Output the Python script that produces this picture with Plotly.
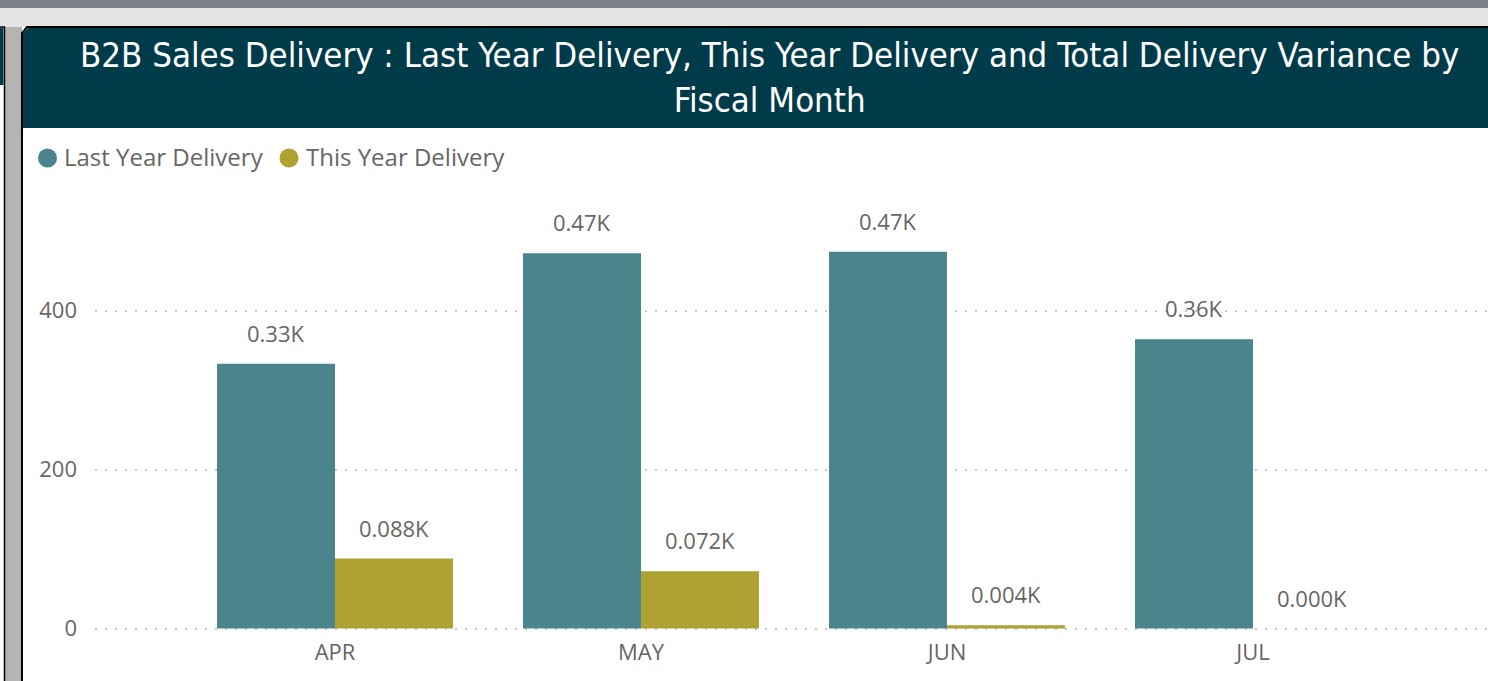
import plotly.graph_objects as go

W, H = 1488, 681

# ---- data ----
months = ["APR", "MAY", "JUN", "JUL"]
last_year = [333, 472, 474, 364]
this_year = [88, 72, 4, 0]
series_names = ["Last Year Delivery", "This Year Delivery"]
series_colors = ["#4a858e", "#b0a133"]
label_decimals = [2, 3]
y_tick_vals = [0, 200, 400]
title_text = ("B2B Sales Delivery : Last Year Delivery, This Year Delivery and "
              "Total Delivery Variance by<br>Fiscal Month")

TEXT_GREY = "#666666"
BODY_FONT = "Segoe UI, Open Sans, sans-serif"


def px(x):
    return x / W


def py(y):
    return 1 - y / H


BARGAP = 0.229
half_px = (1 - BARGAP) / 4 * 306  # pixel offset of each bar centre from category centre

fig = go.Figure()
for name, vals, col in zip(series_names, [last_year, this_year], series_colors):
    fig.add_bar(x=months, y=vals, name=name,
                marker=dict(color=col, line=dict(width=0)),
                showlegend=False)

# data labels
annotations = []
for k, (vals, dec) in enumerate(zip([last_year, this_year], label_decimals)):
    shift = -half_px if k == 0 else half_px
    for m, v in zip(months, vals):
        annotations.append(dict(
            x=m, y=v, xref="x", yref="y", xshift=shift, yshift=31,
            text=f"{v/1000:.{dec}f}K", showarrow=False,
            xanchor="center", yanchor="middle",
            font=dict(family=BODY_FONT, size=22, color=TEXT_GREY)))

# title
annotations.append(dict(
    x=px(769), y=py(77), xref="paper", yref="paper", text=title_text,
    showarrow=False, xanchor="center", yanchor="middle", align="center",
    font=dict(family="Liberation Sans Narrow, Arial Narrow, DejaVu Sans Condensed, Roboto, sans-serif",
              size=34.5, color="white")))

# legend (manual, circle markers)
legend_pos = [(47.5, 62), (289, 304)]
shapes = []
for (cx, tx), name, col in zip(legend_pos, series_names, series_colors):
    shapes.append(dict(type="circle", xref="paper", yref="paper",
                       x0=px(cx - 9.5), x1=px(cx + 9.5), y0=py(158 + 9.5), y1=py(158 - 9.5),
                       fillcolor=col, line=dict(width=0), layer="above"))
    annotations.append(dict(x=px(tx), y=py(156.5), xref="paper", yref="paper", text=name,
                            showarrow=False, xanchor="left", yanchor="middle",
                            font=dict(family=BODY_FONT, size=24, color=TEXT_GREY)))

# ---- report chrome ----
def rect(x0, y0, x1, y1, fill, line_w=0, line_c="black", layer="below"):
    return dict(type="rect", xref="paper", yref="paper",
                x0=px(x0), x1=px(x1), y0=py(y1), y1=py(y0),
                fillcolor=fill, line=dict(width=line_w, color=line_c), layer=layer)


def path(points, fill, line_w=0, line_c="black"):
    d = "M " + " L ".join(f"{px(x):.5f},{py(y):.5f}" for x, y in points) + " Z"
    return dict(type="path", xref="paper", yref="paper", path=d,
                fillcolor=fill, line=dict(width=line_w, color=line_c), layer="below")


chrome = [
    rect(0, 0, W, 8, "#7c828a"),
    rect(0, 8, W, 27, "#e4e4e4"),
    rect(5, 27, 22, H, "#b4b4b4"),
    # left neighbour card
    rect(-2, 27, 4.5, H + 5, "white", 1.5, "black"),
    rect(-2, 28, 3.5, 85, "#003b4a"),
    # main card
    path([(22, H + 5), (22, 33), (27, 27), (W + 5, 27), (W + 5, H + 5)], "white", 2, "black"),
    path([(23, 128), (23, 33), (28, 28), (W + 5, 28), (W + 5, 128)], "#003b4a"),
]

fig.update_layout(
    template="none",
    width=W, height=H,
    margin=dict(l=0, r=0, t=0, b=0, pad=0),
    paper_bgcolor="white", plot_bgcolor="rgba(0,0,0,0)",
    barmode="group", bargap=BARGAP, bargroupgap=0,
    showlegend=False,
    shapes=chrome + shapes,
    annotations=annotations,
    xaxis=dict(domain=[px(95), 1], range=[-0.7843, 3.768], type="category",
               automargin=False,
               showgrid=False, zeroline=False, showline=False, ticks="",
               tickfont=dict(family=BODY_FONT, size=22, color=TEXT_GREY),
               ticklabelstandoff=2),
    yaxis=dict(domain=[py(634.9), py(185)], range=[-8, 558],
               automargin=False,
               tickvals=y_tick_vals, ticktext=[str(v) for v in y_tick_vals],
               showgrid=True, gridcolor="#c8c8c8", gridwidth=2, griddash="2px,8px",
               zeroline=False, showline=False, ticks="",
               tickfont=dict(family=BODY_FONT, size=22, color=TEXT_GREY),
               ticklabelstandoff=17),
)

fig.write_html("out.html", config={"displayModeBar": False},
               post_script="document.body.style.margin='0';")
